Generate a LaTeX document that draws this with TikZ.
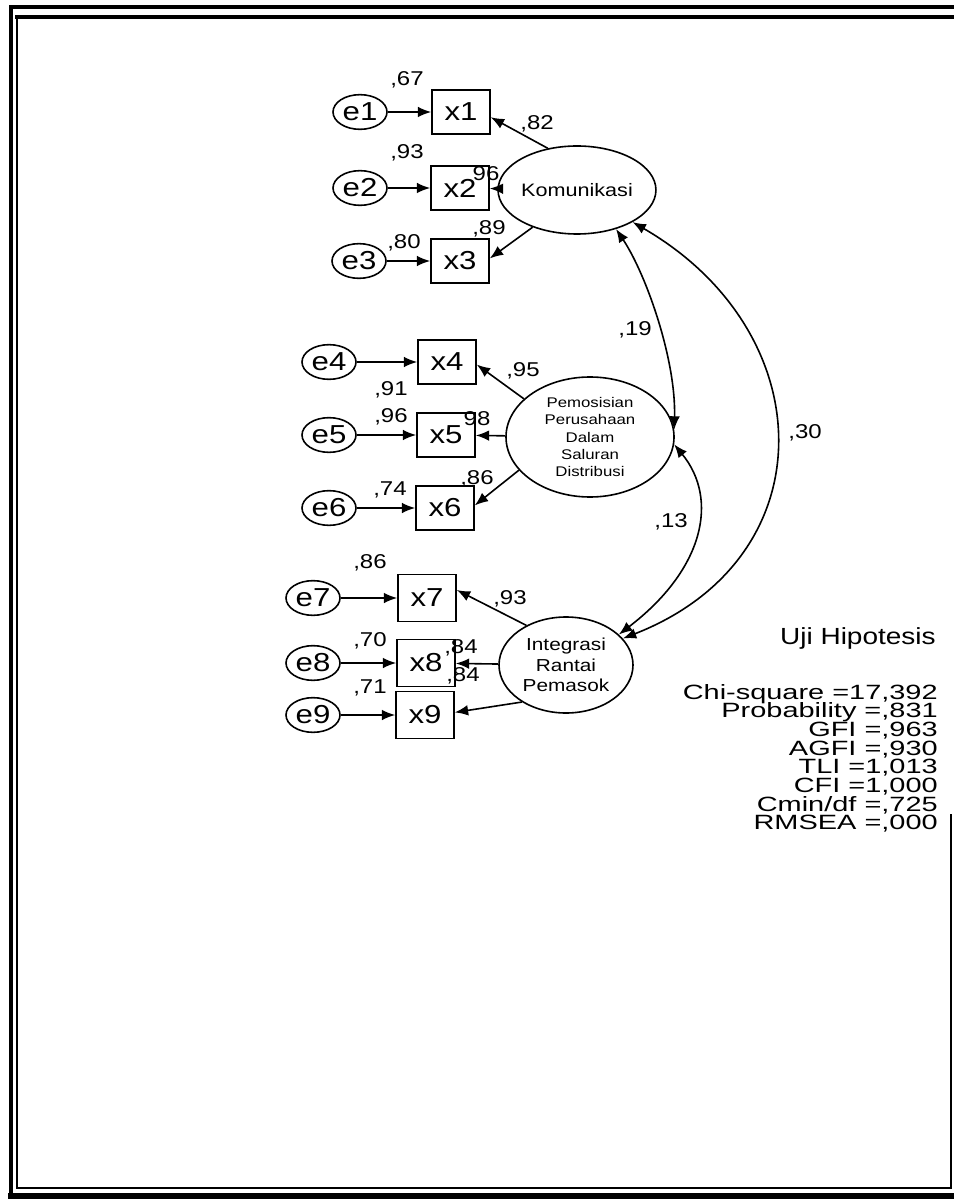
\documentclass[tikz,border=0pt]{standalone}
\usepackage{fontspec}
\setmainfont{Liberation Sans}[FakeStretch=1.2]
\newfontfamily\statfont{Liberation Sans}[FakeStretch=1.4]
\usetikzlibrary{arrows.meta,shapes.geometric}
\newcommand\mytightlines{\lineskiplimit -30pt\relax\lineskip 0pt\relax}
\begin{document}
\begin{tikzpicture}[x=0.75pt,y=-0.75pt,
  err/.style={ellipse,draw,line width=1.2pt,minimum width=40.5pt,minimum height=26pt,inner sep=0pt,font=\fontsize{19.5}{20}\selectfont},
  obs/.style={rectangle,draw,line width=1.2pt,minimum width=43.5pt,minimum height=33pt,inner sep=0pt,font=\fontsize{19.5}{20}\selectfont},
  lat/.style={ellipse,draw,line width=1.2pt,inner sep=0pt,align=center},
  coef/.style={font=\fontsize{15}{16}\selectfont,inner sep=0pt},
  arr/.style={line width=1.2pt,-{Latex[length=10pt,width=8pt]}},
  darr/.style={line width=1.2pt,{Latex[length=10pt,width=8pt]}-{Latex[length=10pt,width=8pt]}},
  frame/.style={line cap=rect}
]
\useasboundingbox (0,0) rectangle (953,1201);
% frame
\draw[frame,line width=3pt] (960,7) -- (11,7) -- (11,1196);
\draw[frame,line width=5pt] (11,1196) -- (960,1196);
\draw[frame,line width=3.5pt] (17,17) -- (960,17);
\draw[frame,line width=1.5pt] (17,17) -- (17,1188) -- (951,1188) -- (951,815);

% group 1
\node[err] (e1) at (360,112) {e1};
\node[err] (e2) at (360,188) {e2};
\node[err] (e3) at (359,261) {e3};
\node[obs] (x1) at (461,112) {x1};
\node[obs] (x2) at (460,188) {x2};
\node[obs] (x3) at (460,261) {x3};
\node[lat,minimum width=97.5pt,minimum height=66pt,font=\fontsize{13.5}{15}\selectfont] (K) at (577,190) {Komunikasi};

% group 2
\node[err] (e4) at (329,362) {e4};
\node[err] (e5) at (329,435) {e5};
\node[err] (e6) at (329,508) {e6};
\node[obs] (x4) at (447,362) {x4};
\node[obs] (x5) at (446,435) {x5};
\node[obs] (x6) at (445,508) {x6};
\node[lat,minimum width=126pt,minimum height=90pt,font=\fontsize{10.5}{13}\selectfont] (P) at (590,437) {Pemosisian\\Perusahaan\\Dalam\\Saluran\\Distribusi};

% group 3
\node[err] (e7) at (313,598) {e7};
\node[err] (e8) at (313,663) {e8};
\node[err] (e9) at (313,715) {e9};
\node[obs,minimum height=35pt] (x7) at (427,598) {x7};
\node[obs,minimum height=35pt] (x8) at (426,663) {x8};
\node[obs,minimum height=35pt] (x9) at (425,715) {x9};
\node[lat,minimum width=100.5pt,minimum height=72pt,font=\fontsize{13}{15.5}\selectfont] (I) at (566,665) {Integrasi\\Rantai\\Pemasok};

% error arrows
\foreach \i in {1,...,9} {\draw[arr] (e\i) -- (x\i);}

% loadings
\draw[arr] (K.125) -- (x1.-10);
\draw[arr] (K) -- (x2);
\draw[arr] (K.-140) -- (x3.5);
\draw[arr] (P.150) -- (x4.-5);
\draw[arr] (P) -- (x5);
\draw[arr] (P.-155) -- (x6.5);
\draw[arr] (I.135) -- (x7.15);
\draw[arr] (I) -- (x8);
\draw[arr] (I.-140) -- (x9.5);

% covariances
\draw[darr] (K.-45) .. controls +(30,45) and +(2,-70) .. (P.5);
\draw[darr] (P.-5) .. controls +(45,55) and +(85,-65) .. (I.30);
\draw[darr] (K.-30) .. controls +(190,110) and +(205,-80) .. (I.25);

% coefficient labels
\node[coef] (c1) at (407,80) {,67};
\node[coef] (c2) at (537,124) {,82};
\node[coef] (c3) at (407,153) {,93};
\node[coef] (c4) at (486,174) {96};
\node[coef] (c5) at (404,243) {,80};
\node[coef] (c6) at (489,229) {,89};
\node[coef] (c7) at (523,371) {,95};
\node[coef] (c8) at (391,390) {,91};
\node[coef] (c9) at (391,417) {,96};
\node[coef] (c10) at (477,419) {98};
\node[coef] (c11) at (390,490) {,74};
\node[coef] (c12) at (477,479) {,86};
\node[coef] (c13) at (370,563) {,86};
\node[coef] (c14) at (510,599) {,93};
\node[coef] (c15) at (370,641) {,70};
\node[coef] (c16) at (461,648) {,84};
\node[coef] (c17) at (370,688) {,71};
\node[coef] (c18) at (463,676) {,84};
\node[coef] (r1) at (635,330) {,19};
\node[coef] (r2) at (671,522) {,13};
\node[coef] (r3) at (805,433) {,30};

% fit statistics
\node[anchor=east,inner sep=0pt,font=\fontsize{17.5}{18}\selectfont] (uji) at (936,638) {Uji Hipotesis};
\node[anchor=north east,inner sep=0pt,align=right,font={\statfont\fontsize{15.5}{14}\selectfont\mytightlines}] (fit) at (938,684)
 {Chi-square =17,392\\Probability =,831\\GFI =,963\\AGFI =,930\\TLI =1,013\\CFI =1,000\\Cmin/df =,725\\RMSEA =,000};
\end{tikzpicture}
\end{document}
